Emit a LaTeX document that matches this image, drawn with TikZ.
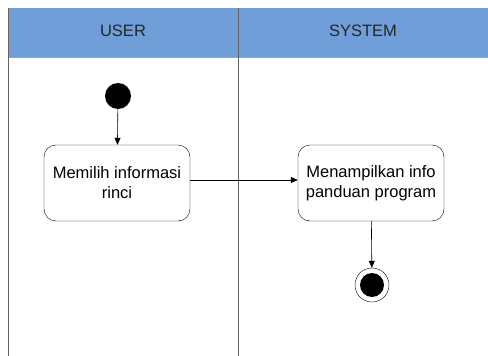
\documentclass[tikz,border=0pt]{standalone}
\usepackage{fontspec}
\setmainfont{Liberation Sans}
\definecolor{LaneBlue}{RGB}{112,158,216}
\definecolor{LaneGray}{RGB}{100,100,100}
\usetikzlibrary{arrows.meta, positioning}

\begin{document}
\begin{tikzpicture}[x=1pt, y=-1pt,
  activity/.style={draw, rounded corners=12pt, minimum width=146pt,
              minimum height=76pt, align=center, font=\fontsize{16.5}{20}\selectfont},
  arrow/.style={-{Triangle[length=7pt, width=6pt]}, semithick},
  lane/.style={draw=LaneGray, line width=1pt},
]
  \useasboundingbox (0,0) rectangle (488,356);

  % swimlanes
  \fill[LaneBlue] (8,8) rectangle (488,57);
  \draw[LaneGray!60, thin] (8,57) -- (488,57);
  \draw[lane] (8,8) -- (8,356);
  \draw[lane] (238,8) -- (238,356);
  \node[font=\fontsize{16.5}{20}\selectfont, text=black!85] (user) at (123,31) {USER};
  \node[font=\fontsize{16.5}{20}\selectfont, text=black!85] (system) at (363,31) {SYSTEM};

  % activities
  \node[circle, fill=black, minimum size=26pt, inner sep=0pt] (start) at (118,96) {};
  \node[activity] (pilih) at (117,183) {Memilih informasi\\rinci};
  \node[activity] (tampil) at (371,183) {Menampilkan info\\panduan program};
  \node[circle, draw, fill=white, minimum size=34pt, inner sep=0pt] (end) at (372,285) {};
  \node[circle, fill=black, minimum size=24pt, inner sep=0pt] (endfill) at (end) {};

  \draw[arrow] (start) -- (pilih);
  \draw[arrow] ([yshift=3pt]pilih.east) -- ([yshift=3pt]tampil.west);
  \draw[arrow] (tampil) -- (end);
\end{tikzpicture}
\end{document}
